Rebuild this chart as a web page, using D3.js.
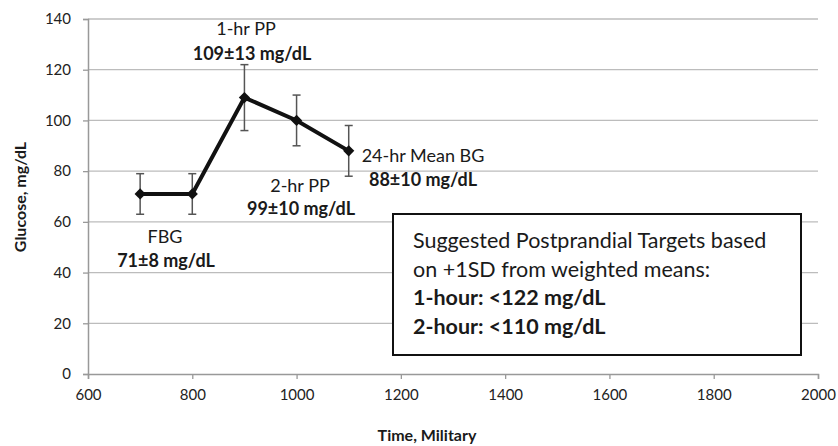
<!DOCTYPE html>
<html lang="en">
<head>
    <meta charset="UTF-8">
    <title>Glucose by Time</title>
    <script src="https://d3js.org/d3.v7.min.js"></script>
    <style>
        body { margin: 0; background: #fff; }
        text { font-family: "Lato", "Open Sans", sans-serif; fill: #1a1a1a; }
    </style>
</head>
<body>
    <svg id="chart" width="838" height="446"></svg>
    <script>
        // data
        const times = [700, 800, 900, 1000, 1100];
        const means = [71, 71, 109, 100, 88];
        const sds = [8, 8, 13, 10, 10];
        const xTicks = [600, 800, 1000, 1200, 1400, 1600, 1800, 2000];
        const yTicks = [0, 20, 40, 60, 80, 100, 120, 140];

        const svg = d3.select("#chart");
        const margin = { top: 19, left: 88 };
        const width = 818 - margin.left;
        const height = 374 - margin.top;

        const g = svg.append("g")
            .attr("transform", `translate(${margin.left},${margin.top})`);

        const x = d3.scaleLinear().domain([600, 2000]).range([0, width]);
        const y = d3.scaleLinear().domain([0, 140]).range([height, 0]);

        // gridlines
        g.append("g")
            .selectAll("line")
            .data(yTicks.filter(d => d > 0))
            .join("line")
            .attr("x1", 0).attr("x2", width)
            .attr("y1", d => y(d)).attr("y2", d => y(d))
            .style("stroke", "#bcbcbc")
            .style("stroke-width", 1.3);

        const xAxis = g.append("g")
            .attr("transform", `translate(0,${height})`)
            .call(d3.axisBottom(x).tickValues(xTicks).tickSize(5).tickPadding(10).tickFormat(d3.format("d")));
        const yAxis = g.append("g")
            .call(d3.axisLeft(y).tickValues(yTicks).tickSize(5).tickPadding(12));

        [xAxis, yAxis].forEach(a => {
            a.select(".domain").style("stroke", "#999").style("stroke-width", 1.5);
            a.selectAll(".tick line").style("stroke", "#999").style("stroke-width", 1.3);
            a.selectAll(".tick text").style("font-size", "15px").style("font-family", "Lato, sans-serif").style("fill", "#222");
        });

        const data = times.map((t, i) => ({ t: t, m: means[i], sd: sds[i] }));

        // error bars
        const eb = g.append("g").style("stroke", "#555").style("stroke-width", 1.5);
        data.forEach(d => {
            const cx = x(d.t);
            eb.append("line").attr("x1", cx).attr("x2", cx)
                .attr("y1", y(d.m + d.sd)).attr("y2", y(d.m - d.sd));
            [d.m + d.sd, d.m - d.sd].forEach(v => {
                eb.append("line").attr("x1", cx - 4).attr("x2", cx + 4)
                    .attr("y1", y(v)).attr("y2", y(v));
            });
        });

        g.append("path")
            .datum(data)
            .attr("d", d3.line().x(d => x(d.t)).y(d => y(d.m)))
            .style("fill", "none")
            .style("stroke", "#111")
            .style("stroke-width", 4);

        g.selectAll(".pt")
            .data(data)
            .join("path")
            .attr("class", "pt")
            .attr("transform", d => `translate(${x(d.t)},${y(d.m)})`)
            .attr("d", d3.symbol(d3.symbolDiamond2, 80))
            .style("fill", "#111");

        // annotations
        const notes = [
            { t: "1-hr PP", x: 246, y: 35, bold: false },
            { t: "109±13 mg/dL", x: 252, y: 60, bold: true },
            { t: "24-hr Mean BG", x: 423, y: 162, bold: false },
            { t: "88±10 mg/dL", x: 423, y: 186, bold: true },
            { t: "2-hr PP", x: 300, y: 192, bold: false },
            { t: "99±10 mg/dL", x: 301, y: 215, bold: true },
            { t: "FBG", x: 165, y: 243, bold: false },
            { t: "71±8 mg/dL", x: 166, y: 267, bold: true }
        ];
        svg.selectAll(".note")
            .data(notes)
            .join("text")
            .attr("class", "note")
            .attr("x", d => d.x).attr("y", d => d.y)
            .attr("text-anchor", "middle")
            .style("font-size", "18px")
            .style("font-weight", d => d.bold ? "bold" : "normal")
            .text(d => d.t);

        // target box
        svg.append("rect")
            .attr("x", 393).attr("y", 214)
            .attr("width", 408).attr("height", 141)
            .style("fill", "#fff")
            .style("stroke", "#111")
            .style("stroke-width", 2);

        const boxLines = [
            { t: "Suggested Postprandial Targets based", bold: false },
            { t: "on +1SD from weighted means:", bold: false },
            { t: "1-hour: <122 mg/dL", bold: true },
            { t: "2-hour: <110 mg/dL", bold: true }
        ];
        svg.selectAll(".boxline")
            .data(boxLines)
            .join("text")
            .attr("class", "boxline")
            .attr("x", 413)
            .attr("y", (d, i) => 248 + i * 28.7)
            .style("font-size", "21.5px")
            .style("font-weight", d => d.bold ? "bold" : "normal")
            .text(d => d.t);

        // axis titles
        svg.append("text")
            .attr("transform", "translate(26,197) rotate(-90)")
            .attr("text-anchor", "middle")
            .style("font-size", "16px")
            .style("font-weight", "bold")
            .text("Glucose, mg/dL");

        svg.append("text")
            .attr("x", 427).attr("y", 441)
            .attr("text-anchor", "middle")
            .style("font-size", "16px")
            .style("font-weight", "bold")
            .text("Time, Military");
    </script>
</body>
</html>
